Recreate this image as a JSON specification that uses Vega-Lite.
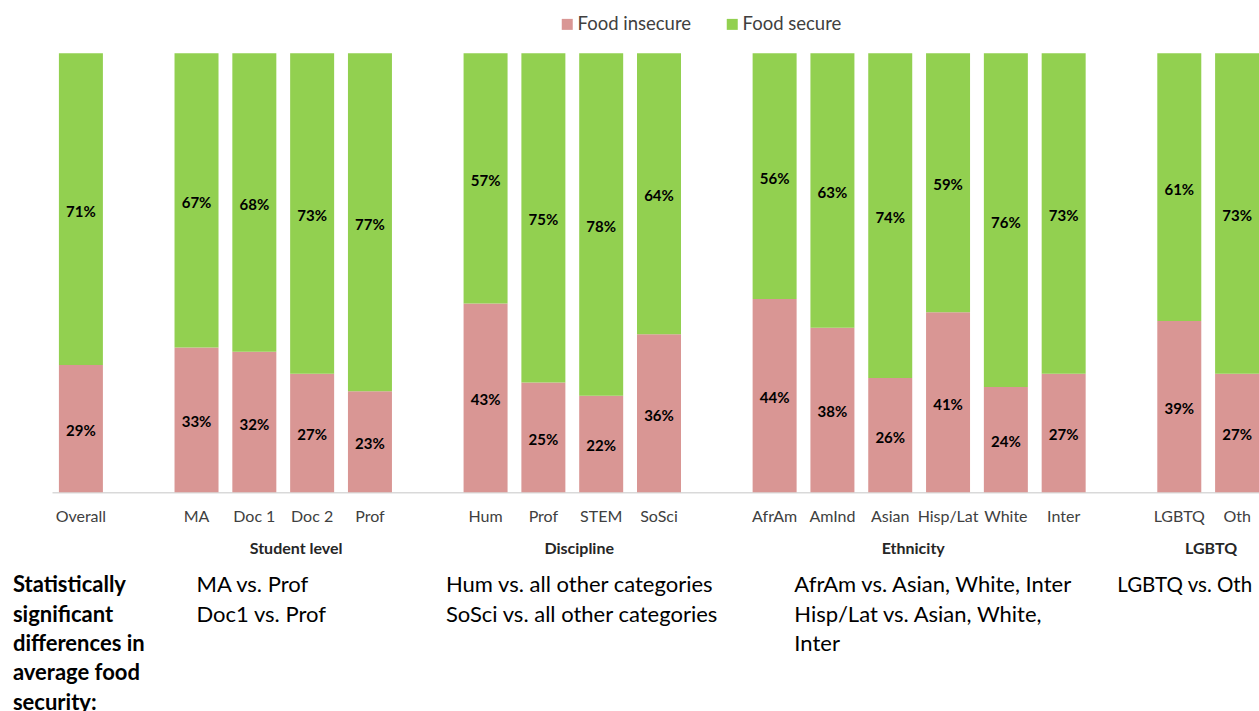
{
  "$schema": "https://vega.github.io/schema/vega-lite/v6.json",
  "padding": {"left": 12, "top": 14.25, "right": 0, "bottom": 0},
  "config": {"view": {"stroke": null}, "font": "Lato"},
  "bounds": "flush",
  "spacing": 70.7,
  "datasets": {
    "bars": [
      {"key": "Overall", "status": "Food insecure", "pct": 0.29}, {"key": "Overall", "status": "Food secure", "pct": 0.71},
      {"key": "MA", "status": "Food insecure", "pct": 0.33}, {"key": "MA", "status": "Food secure", "pct": 0.67},
      {"key": "Doc 1", "status": "Food insecure", "pct": 0.32}, {"key": "Doc 1", "status": "Food secure", "pct": 0.68},
      {"key": "Doc 2", "status": "Food insecure", "pct": 0.27}, {"key": "Doc 2", "status": "Food secure", "pct": 0.73},
      {"key": "Prof|S", "status": "Food insecure", "pct": 0.23}, {"key": "Prof|S", "status": "Food secure", "pct": 0.77},
      {"key": "Hum", "status": "Food insecure", "pct": 0.43}, {"key": "Hum", "status": "Food secure", "pct": 0.57},
      {"key": "Prof|D", "status": "Food insecure", "pct": 0.25}, {"key": "Prof|D", "status": "Food secure", "pct": 0.75},
      {"key": "STEM", "status": "Food insecure", "pct": 0.22}, {"key": "STEM", "status": "Food secure", "pct": 0.78},
      {"key": "SoSci", "status": "Food insecure", "pct": 0.36}, {"key": "SoSci", "status": "Food secure", "pct": 0.64},
      {"key": "AfrAm", "status": "Food insecure", "pct": 0.44}, {"key": "AfrAm", "status": "Food secure", "pct": 0.56},
      {"key": "AmInd", "status": "Food insecure", "pct": 0.375}, {"key": "AmInd", "status": "Food secure", "pct": 0.625},
      {"key": "Asian", "status": "Food insecure", "pct": 0.26}, {"key": "Asian", "status": "Food secure", "pct": 0.74},
      {"key": "Hisp/Lat", "status": "Food insecure", "pct": 0.41}, {"key": "Hisp/Lat", "status": "Food secure", "pct": 0.59},
      {"key": "White", "status": "Food insecure", "pct": 0.24}, {"key": "White", "status": "Food secure", "pct": 0.76},
      {"key": "Inter", "status": "Food insecure", "pct": 0.27}, {"key": "Inter", "status": "Food secure", "pct": 0.73},
      {"key": "LGBTQ", "status": "Food insecure", "pct": 0.39}, {"key": "LGBTQ", "status": "Food secure", "pct": 0.61},
      {"key": "Oth", "status": "Food insecure", "pct": 0.27}, {"key": "Oth", "status": "Food secure", "pct": 0.73}
    ],
    "notes": [
      {"block": "t1", "anchor": "Doc 2", "line": 0, "text": "Student level"},
      {"block": "t2", "anchor": "STEM", "line": 0, "text": "Discipline"},
      {"block": "t3", "anchor": "Asian", "line": 0, "text": "Ethnicity"},
      {"block": "t4", "anchor": "Oth", "line": 0, "text": "LGBTQ"},
      {"block": "lead", "anchor": "Overall", "line": 1, "text": "Statistically"},
      {"block": "lead", "anchor": "Overall", "line": 2, "text": "significant"},
      {"block": "lead", "anchor": "Overall", "line": 3, "text": "differences in"},
      {"block": "lead", "anchor": "Overall", "line": 4, "text": "average food"},
      {"block": "lead", "anchor": "Overall", "line": 5, "text": "security:"},
      {"block": "b1", "anchor": "MA", "line": 1, "text": "MA vs. Prof"},
      {"block": "b1", "anchor": "MA", "line": 2, "text": "Doc1 vs. Prof"},
      {"block": "b2", "anchor": "Hum", "line": 1, "text": "Hum vs. all other categories"},
      {"block": "b2", "anchor": "Hum", "line": 2, "text": "SoSci vs. all other categories"},
      {"block": "b3", "anchor": "AfrAm", "line": 1, "text": "AfrAm vs. Asian, White, Inter"},
      {"block": "b3", "anchor": "AfrAm", "line": 2, "text": "Hisp/Lat vs. Asian, White,"},
      {"block": "b3", "anchor": "AfrAm", "line": 3, "text": "Inter"},
      {"block": "b4", "anchor": "LGBTQ", "line": 1, "text": "LGBTQ vs. Oth"}
    ]
  },
  "vconcat": [
    {
      "width": 1214,
      "height": 439,
      "data": {"name": "bars"},
      "encoding": {
        "x": {
          "field": "key", "type": "nominal",
          "scale": {
            "domain": ["Overall", "gap1", "MA", "Doc 1", "Doc 2", "Prof|S", "gap2", "Hum", "Prof|D", "STEM", "SoSci", "gap3", "AfrAm", "AmInd", "Asian", "Hisp/Lat", "White", "Inter", "gap4", "LGBTQ", "Oth"],
            "paddingInner": 0.239, "paddingOuter": 0.1195
          },
          "axis": {
            "title": null, "ticks": false, "domainColor": "#D9D9D9", "domainWidth": 1.5,
            "labelAngle": 0, "labelFont": "Lato", "labelFontSize": 16, "labelColor": "#404040",
            "labelPadding": 16, "labelOverlap": false,
            "labelExpr": "indexof(datum.value, 'gap') == 0 ? '' : split(datum.value, '|')[0]"
          }
        }
      },
      "layer": [
        {
          "mark": {"type": "bar"},
          "encoding": {
            "y": {"field": "pct", "type": "quantitative", "stack": "zero", "scale": {"domain": [0, 1], "nice": false}, "axis": null},
            "color": {
              "field": "status", "type": "nominal",
              "scale": {"domain": ["Food insecure", "Food secure"], "range": ["#D99694", "#92D050"]},
              "legend": {
                "orient": "none", "legendX": 506, "legendY": -38.25, "direction": "horizontal", "title": null,
                "symbolType": "square", "symbolSize": 121, "symbolStrokeWidth": 0, "symbolOpacity": 1,
                "labelFont": "Lato", "labelFontSize": 18.5, "labelColor": "#404040", "labelOffset": 1,
                "columnPadding": 31, "padding": 0
              }
            },
            "order": {"field": "status", "sort": "ascending"}
          }
        },
        {
          "mark": {"type": "text", "font": "Lato", "fontWeight": "bold", "fontSize": 15, "color": "#000000", "baseline": "middle", "dy": 2.5},
          "encoding": {
            "y": {"field": "pct", "type": "quantitative", "stack": "zero", "bandPosition": 0.5},
            "detail": {"field": "status"},
            "order": {"field": "status", "sort": "ascending"},
            "text": {"field": "pct", "type": "quantitative", "format": ".0%"}
          }
        }
      ]
    },
    {
      "width": 1214,
      "height": 146.7,
      "data": {"name": "notes"},
      "encoding": {
        "x": {
          "field": "anchor", "type": "nominal",
          "scale": {
            "domain": ["Overall", "gap1", "MA", "Doc 1", "Doc 2", "Prof|S", "gap2", "Hum", "Prof|D", "STEM", "SoSci", "gap3", "AfrAm", "AmInd", "Asian", "Hisp/Lat", "White", "Inter", "gap4", "LGBTQ", "Oth"],
            "paddingInner": 0.239, "paddingOuter": 0.1195
          },
          "axis": null
        },
        "y": {"field": "line", "type": "quantitative", "scale": {"domain": [0, 5], "reverse": true, "nice": false, "zero": false}, "axis": null},
        "text": {"field": "text"}
      },
      "layer": [
        {"transform": [{"filter": "datum.block == 't1'"}], "mark": {"type": "text", "font": "Lato", "fontWeight": "bold", "fontSize": 16, "color": "#262626", "align": "center", "baseline": "alphabetic", "dx": -16, "dy": -9}},
        {"transform": [{"filter": "datum.block == 't2'"}], "mark": {"type": "text", "font": "Lato", "fontWeight": "bold", "fontSize": 16, "color": "#262626", "align": "center", "baseline": "alphabetic", "dx": -22, "dy": -9}},
        {"transform": [{"filter": "datum.block == 't3'"}], "mark": {"type": "text", "font": "Lato", "fontWeight": "bold", "fontSize": 16, "color": "#262626", "align": "center", "baseline": "alphabetic", "dx": 23, "dy": -9}},
        {"transform": [{"filter": "datum.block == 't4'"}], "mark": {"type": "text", "font": "Lato", "fontWeight": "bold", "fontSize": 16, "color": "#262626", "align": "center", "baseline": "alphabetic", "dx": -26, "dy": -9}},
        {"transform": [{"filter": "datum.block == 'lead'"}], "mark": {"type": "text", "font": "Lato", "fontWeight": "bold", "fontSize": 22, "color": "#000000", "align": "left", "baseline": "alphabetic", "dx": -68}},
        {"transform": [{"filter": "datum.block == 'b1'"}], "mark": {"type": "text", "font": "Lato", "fontSize": 22, "color": "#000000", "align": "left", "baseline": "alphabetic", "dx": 0}},
        {"transform": [{"filter": "datum.block == 'b2'"}], "mark": {"type": "text", "font": "Lato", "fontSize": 22, "color": "#000000", "align": "left", "baseline": "alphabetic", "dx": -39.6}},
        {"transform": [{"filter": "datum.block == 'b3'"}], "mark": {"type": "text", "font": "Lato", "fontSize": 22, "color": "#000000", "align": "left", "baseline": "alphabetic", "dx": 19.7}},
        {"transform": [{"filter": "datum.block == 'b4'"}], "mark": {"type": "text", "font": "Lato", "fontSize": 20.5, "color": "#000000", "align": "left", "baseline": "alphabetic", "dx": -62}}
      ]
    }
  ]
}
